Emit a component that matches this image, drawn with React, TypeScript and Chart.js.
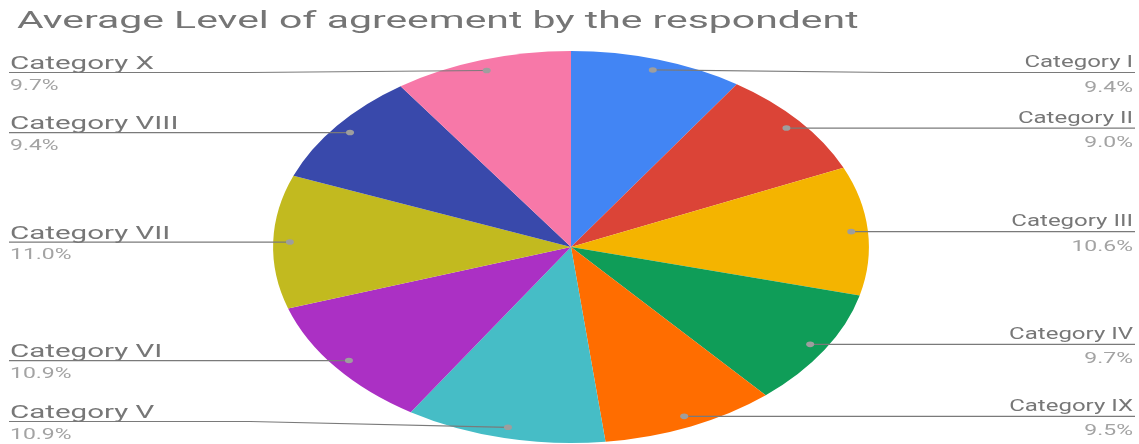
import React, { useEffect, useRef } from "react";
import { Chart, registerables } from "chart.js";

Chart.register(...registerables);

const TITLE = "Average Level of agreement by the respondent";
const categories = [
  "Category I",
  "Category II",
  "Category III",
  "Category IV",
  "Category IX",
  "Category V",
  "Category VI",
  "Category VII",
  "Category VIII",
  "Category X",
];
const shares = [9.4, 9.0, 10.6, 9.7, 9.5, 10.9, 10.9, 11.0, 9.4, 9.7];
const colors = [
  "#4285F4",
  "#DB4437",
  "#F4B400",
  "#0F9D58",
  "#FF6D00",
  "#46BDC6",
  "#AB30C4",
  "#C2BA1F",
  "#3949AB",
  "#F778A8",
];

const W = 1139;
const H = 444;
const CX = 571;
const SX = 1.52; // horizontal stretch of the pie
const FONT = "Roboto, 'Noto Sans', Arial, sans-serif";

const stretchPlugin = {
  id: "stretch",
  beforeDatasetsDraw(chart: any) {
    const ctx = chart.ctx;
    ctx.save();
    ctx.translate(CX, 0);
    ctx.scale(SX, 1);
    ctx.translate(-CX, 0);
  },
  afterDatasetsDraw(chart: any) {
    chart.ctx.restore();
  },
};

function drawText(
  ctx: CanvasRenderingContext2D,
  text: string,
  x: number,
  y: number,
  size: number,
  sx: number,
  color: string,
  align: CanvasTextAlign
) {
  ctx.save();
  ctx.translate(x, y);
  ctx.scale(sx, 1);
  ctx.font = `${size}px ${FONT}`;
  ctx.fillStyle = color;
  ctx.textAlign = align;
  ctx.textBaseline = "alphabetic";
  ctx.fillText(text, 0, 0);
  ctx.restore();
}

const labelPlugin = {
  id: "pieLabels",
  afterDraw(chart: any) {
    const ctx: CanvasRenderingContext2D = chart.ctx;
    // title
    drawText(ctx, TITLE, 17, 28, 24, 1.705, "#757575", "left");

    const meta = chart.getDatasetMeta(0);
    const data: number[] = chart.data.datasets[0].data;
    const total = data.reduce((a, b) => a + b, 0);
    meta.data.forEach((arc: any, i: number) => {
      const { startAngle, endAngle, x, y, outerRadius } = arc.getProps(
        ["startAngle", "endAngle", "x", "y", "outerRadius"],
        true
      );
      const mid = (startAngle + endAngle) / 2;
      const rr = outerRadius * 0.944;
      const dotX = CX + (x + Math.cos(mid) * rr - CX) * SX;
      const dotY = y + Math.sin(mid) * rr;
      const right = dotX > CX;
      const lineY = Math.min(421.5, Math.max(72.5, dotY));

      ctx.save();
      ctx.strokeStyle = "#7a7a7a";
      ctx.lineWidth = 1.2;
      ctx.beginPath();
      ctx.moveTo(dotX, dotY);
      if (right) {
        ctx.lineTo(Math.max(dotX, 890), lineY);
        ctx.lineTo(1135, lineY);
      } else {
        ctx.lineTo(Math.min(dotX, 250), lineY);
        ctx.lineTo(9, lineY);
      }
      ctx.stroke();
      ctx.fillStyle = "#9e9e9e";
      ctx.beginPath();
      ctx.ellipse(dotX, dotY, 4, 2.8, 0, 0, Math.PI * 2);
      ctx.fill();
      ctx.restore();

      const pct = ((data[i] / total) * 100).toFixed(1) + "%";
      if (right) {
        drawText(ctx, chart.data.labels[i], 1133, lineY - 5.4, 16, 1.5, "#777777", "right");
        drawText(ctx, pct, 1133, lineY + 19, 14, 1.64, "#a3a3a3", "right");
      } else {
        drawText(ctx, chart.data.labels[i], 10, lineY - 3.5, 18, 1.64, "#777777", "left");
        drawText(ctx, pct, 10, lineY + 17, 14, 1.64, "#a3a3a3", "left");
      }
    });
  },
};

export default function App() {
  const ref = useRef<HTMLCanvasElement | null>(null);
  useEffect(() => {
    if (!ref.current) return;
    const chart = new Chart(ref.current, {
      type: "pie",
      data: {
        labels: categories,
        datasets: [
          {
            data: shares,
            backgroundColor: colors,
            borderWidth: 0,
          },
        ],
      },
      options: {
        animation: false,
        responsive: true,
        maintainAspectRatio: false,
        layout: { padding: { left: 375, right: 372, top: 51, bottom: 1 } },
        plugins: {
          legend: { display: false },
          tooltip: { enabled: false },
          title: { display: false },
        },
      },
      plugins: [stretchPlugin, labelPlugin],
    });
    if ((document as any).fonts && (document as any).fonts.load) {
      (document as any).fonts.load(`18px Roboto`).then(() => chart.draw());
    }
    return () => chart.destroy();
  }, []);
  return (
    <div
      style={{
        position: "absolute",
        left: 0,
        top: 0,
        width: W,
        height: H,
        background: "#fff",
      }}
    >
      <canvas ref={ref} />
    </div>
  );
}
